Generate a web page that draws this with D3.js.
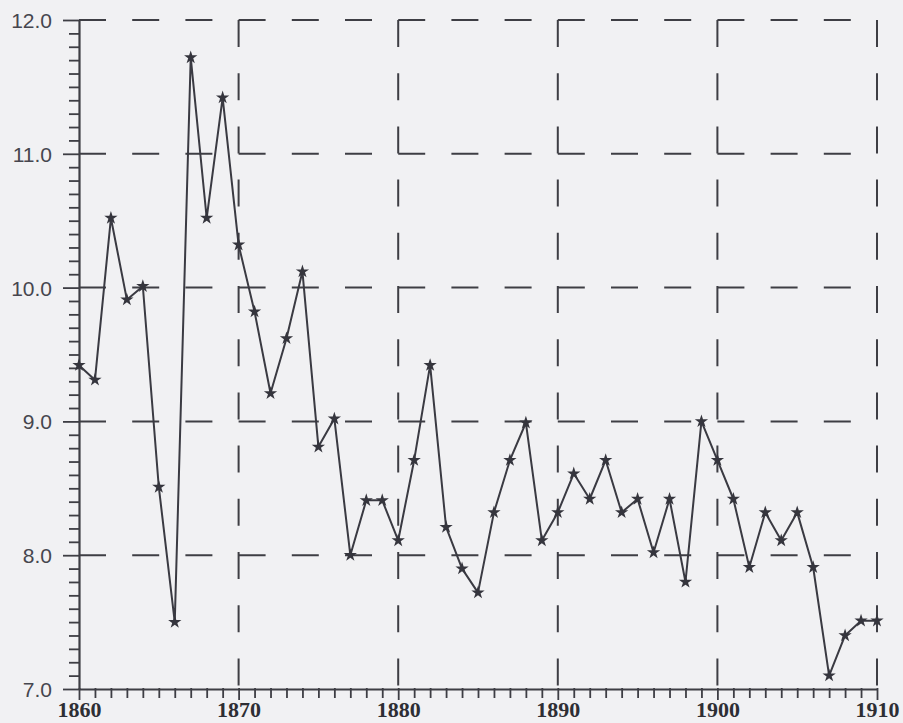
<!DOCTYPE html>
<html>
<head>
<meta charset="utf-8">
<script src="https://cdn.jsdelivr.net/npm/d3@7"></script>
<style>
  html, body { margin: 0; padding: 0; background: #f1f1f3; }
  svg { display: block; }
</style>
</head>
<body>
<svg id="chart" width="903" height="723"></svg>
<script>
// ---- data ----
const years = d3.range(1860, 1911);
const values = [
  9.42, 9.31, 10.52, 9.91, 10.01, 8.51, 7.50, 11.72, 10.52, 11.42,
  10.32, 9.82, 9.21, 9.62, 10.12, 8.81, 9.02, 8.00, 8.41, 8.41,
  8.11, 8.71, 9.42, 8.21, 7.90, 7.72, 8.32, 8.71, 8.99, 8.11,
  8.32, 8.61, 8.42, 8.71, 8.32, 8.42, 8.02, 8.42, 7.80, 9.00,
  8.71, 8.42, 7.91, 8.32, 8.11, 8.32, 7.91, 7.10, 7.40, 7.51,
  7.51
];
const yTicks = [7, 8, 9, 10, 11, 12];
const xTicks = [1860, 1870, 1880, 1890, 1900, 1910];

// ---- layout ----
const svg = d3.select("#chart");
const L = 79, R = 877, T = 20, B = 689;
const x = d3.scaleLinear().domain([1860, 1910]).range([L, R]);
const y = d3.scaleLinear().domain([7, 12]).range([B, T]);
const ink = "#3e3e44";
const dash = "27,26.2";

// horizontal dashed grid
svg.append("g").selectAll("line")
  .data(yTicks.filter(d => d > 7))
  .join("line")
  .attr("x1", L).attr("x2", R)
  .attr("y1", d => y(d)).attr("y2", d => y(d))
  .attr("stroke", ink).attr("stroke-width", 2)
  .attr("stroke-dasharray", dash);

// vertical dashed grid (starting from top)
svg.append("g").selectAll("line")
  .data(xTicks.filter(d => d > 1860))
  .join("line")
  .attr("x1", d => x(d)).attr("x2", d => x(d))
  .attr("y1", T).attr("y2", B)
  .attr("stroke", ink).attr("stroke-width", 2)
  .attr("stroke-dasharray", dash);

// y axis (left) with minor ticks
const yAxis = d3.axisLeft(y)
  .tickValues(d3.range(70, 121).map(d => d / 10))
  .tickSize(0).tickFormat("");
const gy = svg.append("g").attr("transform", `translate(${L},0)`).call(yAxis);
gy.select(".domain").attr("stroke", ink).attr("stroke-width", 2.2);
gy.selectAll(".tick line")
  .attr("x1", d => (Math.abs(d - Math.round(d)) < 1e-6) ? -16 : -10)
  .attr("x2", 1)
  .attr("stroke", ink).attr("stroke-width", 1.8);
gy.selectAll(".tick").filter(d => Math.abs(d - Math.round(d)) < 1e-6)
  .append("text")
  .attr("x", -27).attr("dy", "0.36em")
  .attr("text-anchor", "end")
  .attr("fill", "#46464e")
  .style("font-family", "'Liberation Sans', Arial, sans-serif")
  .style("font-size", "21px")
  .text(d => d3.format(".1f")(d));

// x axis (bottom) with minor ticks
const xAxis = d3.axisBottom(x)
  .tickValues(d3.range(1860, 1911))
  .tickSize(0).tickFormat("");
const gx = svg.append("g").attr("transform", `translate(0,${B})`).call(xAxis);
gx.select(".domain").attr("stroke", ink).attr("stroke-width", 2.2);
gx.selectAll(".tick line")
  .attr("y1", -1)
  .attr("y2", d => (d % 10 === 0) ? 11 : 9)
  .attr("stroke", ink).attr("stroke-width", 1.8);
gx.selectAll(".tick").filter(d => d % 10 === 0)
  .append("text")
  .attr("y", 28)
  .attr("text-anchor", "middle")
  .attr("fill", "#2e2e34")
  .style("font-family", "'Liberation Serif', 'DejaVu Serif', serif")
  .style("font-weight", "bold")
  .style("font-size", "22px")
  .text(d => d);

// data line
const pts = years.map((yr, i) => [yr, values[i]]);
svg.append("path")
  .datum(pts)
  .attr("fill", "none")
  .attr("stroke", "#3a3a42")
  .attr("stroke-width", 2)
  .attr("stroke-linejoin", "round")
  .attr("d", d3.line().x(d => x(d[0])).y(d => y(d[1])));

// markers
svg.append("g").selectAll("path")
  .data(pts)
  .join("path")
  .attr("transform", d => `translate(${x(d[0])},${y(d[1])})`)
  .attr("d", d3.symbol().type(d3.symbolStar).size(55))
  .attr("fill", "#35353d");
</script>
</body>
</html>
